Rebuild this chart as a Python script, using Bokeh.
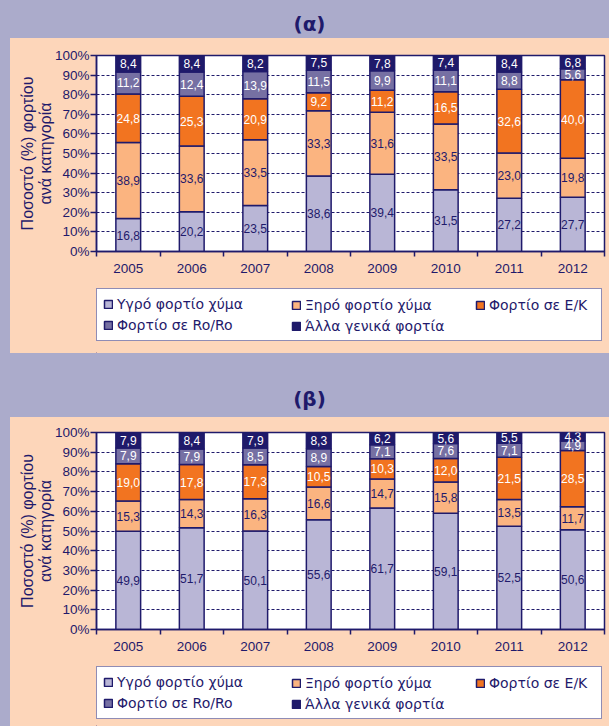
from bokeh.plotting import figure
from bokeh.models import (ColumnDataSource, FixedTicker, Legend, LegendItem, Label,
                          PrintfTickFormatter, GlobalInlineStyleSheet)
from bokeh.layouts import column
from bokeh.core.properties import value
from bokeh.embed import file_html
from bokeh.resources import INLINE

# ---------------- data ----------------
years = ["2005", "2006", "2007", "2008", "2009", "2010", "2011", "2012"]
series_names = ["Υγρό φορτίο χύμα", "Ξηρό φορτίο χύμα", "Φορτίο σε Ε/Κ",
                "Φορτίο σε Ro/Ro", "Άλλα γενικά φορτία"]

# panel (α)
a_ygro = [16.8, 20.2, 23.5, 38.6, 39.4, 31.5, 27.2, 27.7]
a_xiro = [38.9, 33.6, 33.5, 33.3, 31.6, 33.5, 23.0, 19.8]
a_ek = [24.8, 25.3, 20.9, 9.2, 11.2, 16.5, 32.6, 40.0]
a_roro = [11.2, 12.4, 13.9, 11.5, 9.9, 11.1, 8.8, 5.6]
a_alla = [8.4, 8.4, 8.2, 7.5, 7.8, 7.4, 8.4, 6.8]

# panel (β)
b_ygro = [49.9, 51.7, 50.1, 55.6, 61.7, 59.1, 52.5, 50.6]
b_xiro = [15.3, 14.3, 16.3, 16.6, 14.7, 15.8, 13.5, 11.7]
b_ek = [19.0, 17.8, 17.3, 10.5, 10.3, 12.0, 21.5, 28.5]
b_roro = [7.9, 7.9, 8.5, 8.9, 7.1, 7.6, 7.1, 4.9]
b_alla = [7.9, 8.4, 7.9, 8.3, 6.2, 5.6, 5.5, 4.3]

y_ticks = [0, 10, 20, 30, 40, 50, 60, 70, 80, 90, 100]
y_label = "Ποσοστό (%) φορτίου\nανά κατηγορία"

# ---------------- style ----------------
NAVY = "#1F1A6B"
LAV = "#ABABCB"
PEACH = "#FDD6BA"
colors = ["#B9B6D6", "#FBB480", "#F27420", "#7670A3", "#1F1A6A"]
label_colors = [NAVY, NAVY, "white", "white", "white"]
FONT = "Liberation Sans"
W = 609
LEFT_STRIP = f"linear-gradient(to right, {LAV} 0px, {LAV} 10px, {PEACH} 10px)"


def fmt(v):
    return f"{v:.1f}".replace(".", ",")


def blank(h):
    p = figure(width=W, height=h, x_range=(0, 1), y_range=(0, 1),
               x_axis_type=None, y_axis_type=None, output_backend="svg",
               toolbar_location=None, min_border_left=0, min_border_right=0,
               min_border_top=0, min_border_bottom=0)
    p.outline_line_color = None
    return p


def header(text, h, y_from_top):
    # frames of the column are aligned to the chart frame (left edge at x=96)
    p = blank(h)
    p.background_fill_color = LAV
    p.border_fill_color = LAV
    p.add_layout(Label(x=213, y=h - y_from_top, x_units="screen", y_units="screen",
                       text=text, text_font="DejaVu Sans", text_font_style="bold",
                       text_font_size="20px", text_color=NAVY,
                       text_align="center", text_baseline="middle"))
    return p


def chart(series, h, mt, mb, ml, mr):
    n = len(years)
    p = figure(width=W, height=h, x_range=(-0.5, n - 0.5), y_range=(0, 100),
               output_backend="svg", toolbar_location=None,
               min_border_left=ml, min_border_right=mr, min_border_top=mt,
               min_border_bottom=mb)
    p.border_fill_alpha = 0
    p.styles = {"background": LEFT_STRIP}
    p.background_fill_color = "white"
    p.outline_line_color = NAVY
    p.outline_line_width = 1.5

    p.xaxis.ticker = FixedTicker(ticks=list(range(n)),
                                 minor_ticks=[i - 0.5 for i in range(n + 1)])
    p.xaxis.major_label_overrides = {i: y for i, y in enumerate(years)}
    p.yaxis.ticker = FixedTicker(ticks=y_ticks, minor_ticks=[])
    p.yaxis.formatter = PrintfTickFormatter(format="%d%%")
    for ax in (p.xaxis[0], p.yaxis[0]):
        ax.axis_line_color = NAVY
        ax.axis_line_width = 1.5
        ax.major_tick_line_color = NAVY
        ax.minor_tick_line_color = NAVY
        ax.major_tick_line_width = 1.5
        ax.minor_tick_line_width = 1.5
        ax.major_label_text_font = FONT
        ax.major_label_text_font_size = "13.5px"
        ax.major_label_text_color = NAVY
    p.xaxis.major_tick_out = 0
    p.xaxis.major_tick_in = 0
    p.xaxis.minor_tick_out = 5
    p.xaxis.minor_tick_in = 0
    p.xaxis.major_label_standoff = 7
    p.yaxis.major_tick_out = 6
    p.yaxis.major_tick_in = 0
    p.yaxis.minor_tick_out = 0
    p.yaxis.minor_tick_in = 0
    p.yaxis.major_label_standoff = 1
    p.yaxis.axis_label = y_label
    p.yaxis.axis_label_text_font = FONT
    p.yaxis.axis_label_text_font_size = "16px"
    p.yaxis.axis_label_text_font_style = "normal"
    p.yaxis.axis_label_text_color = NAVY
    p.yaxis.axis_label_text_line_height = 1.05
    p.yaxis.axis_label_standoff = -2

    p.xgrid.visible = False
    p.ygrid.ticker = FixedTicker(ticks=y_ticks, minor_ticks=[])
    p.ygrid.grid_line_color = NAVY
    p.ygrid.grid_line_dash = "3 2"
    p.ygrid.grid_line_width = 1

    totals = [sum(c) for c in zip(*series)]
    bottoms = [0.0] * n
    sources = []
    for k, vals in enumerate(series):
        share = [v / t * 100 for v, t in zip(vals, totals)]
        tops = [b + s for b, s in zip(bottoms, share)]
        src = ColumnDataSource(dict(
            x=list(range(n)), bottom=bottoms, top=tops,
            mid=[(b + t) / 2 for b, t in zip(bottoms, tops)],
            label=[fmt(v) for v in vals]))
        p.vbar(x="x", width=0.39, bottom="bottom", top="top", source=src,
               fill_color=colors[k], line_color=NAVY, line_width=1.5)
        sources.append(src)
        bottoms = tops
    for k, src in enumerate(sources):
        p.text(x="x", y="mid", text="label", source=src, text_color=label_colors[k],
               text_font=value(FONT), text_font_size="12px",
               text_align="center", text_baseline="middle")
    return p


def legend_fig(h, box_y):
    p = blank(h)
    p.background_fill_alpha = 0
    p.border_fill_alpha = 0
    p.styles = {"background": LEFT_STRIP}
    # swatch renderers for the legend only (kept outside the visible range)
    rs = [p.vbar(x=[-5], top=[0], bottom=[0], width=0.1, fill_color=c,
                 line_color=NAVY, line_width=1.5) for c in colors]
    common = dict(orientation="vertical", padding=6, spacing=3, glyph_width=10,
                  glyph_height=10, label_standoff=4, label_height=18, margin=0,
                  label_text_font="DejaVu Sans", label_text_font_size="14px",
                  label_text_color=NAVY)
    l1 = Legend(items=[LegendItem(label=series_names[0], renderers=[rs[0]]),
                       LegendItem(label=series_names[3], renderers=[rs[3]])],
                location=(0, box_y), label_width=478,
                border_line_color=NAVY, border_line_width=1.5,
                background_fill_color="white", background_fill_alpha=1, **common)
    l2 = Legend(items=[LegendItem(label=series_names[1], renderers=[rs[1]]),
                       LegendItem(label=series_names[4], renderers=[rs[4]])],
                location=(189, box_y), border_line_alpha=0,
                background_fill_alpha=0, **common)
    l3 = Legend(items=[LegendItem(label=series_names[2], renderers=[rs[2]])],
                location=(373, box_y + 21), border_line_alpha=0,
                background_fill_alpha=0, **common)
    for lg in (l1, l2, l3):
        p.add_layout(lg)
    return p


hA = header("(α)", 38, 23)
pA = chart([a_ygro, a_xiro, a_ek, a_roro, a_alla], h=244, mt=17, mb=31, ml=96, mr=5)
lA = legend_fig(71, 12)
hB = header("(β)", 64, 45)
pB = chart([b_ygro, b_xiro, b_ek, b_roro, b_alla], h=243, mt=15, mb=31, ml=93, mr=5)
lB = legend_fig(66, 7)

page_css = GlobalInlineStyleSheet(css=f"html {{ background: {LAV}; }}")
layout = column(hA, pA, lA, hB, pB, lB, spacing=0, stylesheets=[page_css])

with open("out.html", "w", encoding="utf-8") as f:
    f.write(file_html(layout, INLINE))
